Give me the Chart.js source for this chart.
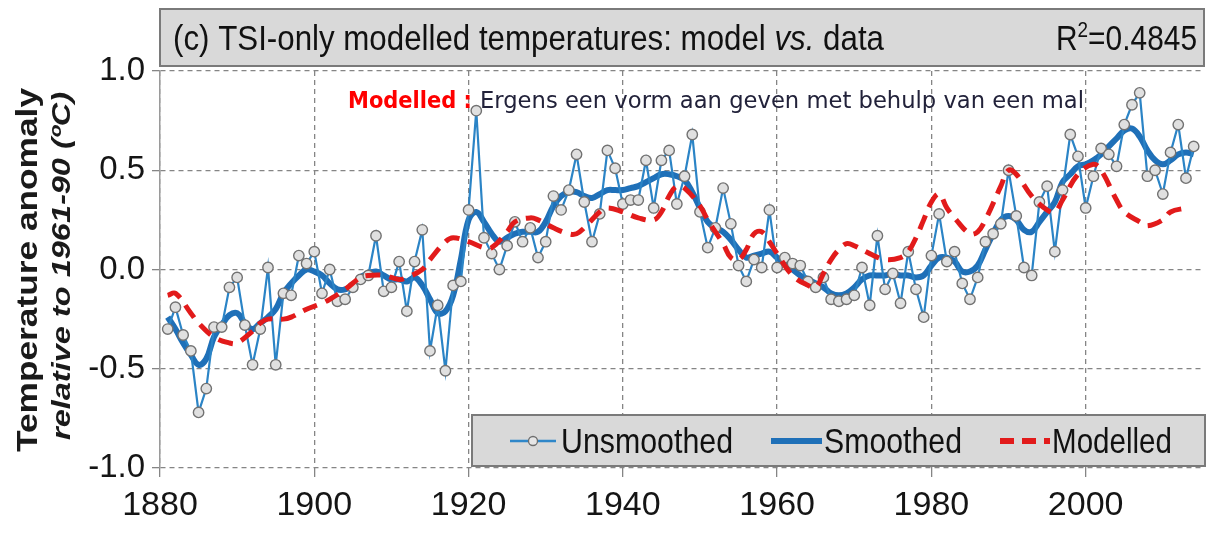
<!DOCTYPE html>
<html>
<head>
<meta charset="utf-8">
<title>TSI-only modelled temperatures</title>
<script src="https://cdn.jsdelivr.net/npm/chart.js@4.4.1/dist/chart.umd.min.js"></script>
<style>
    html, body { margin: 0; padding: 0; background: #fff; }
    #wrap { width: 1208px; height: 540px; }
</style>
</head>
<body>
<div id="wrap"><canvas id="tsiChart" width="1208" height="540"></canvas></div>
<script>
// Temperature anomaly vs TSI-only model

var FIRST_YEAR = 1881;

// annual anomalies, 1881-2014
var unsmoothed = [
    -0.30, -0.19, -0.33, -0.41, -0.72, -0.60, -0.29, -0.29, -0.09, -0.04,
    -0.28, -0.48, -0.30, 0.01, -0.48, -0.12, -0.13, 0.07, 0.03, 0.09,
    -0.12, 0.00, -0.16, -0.15, -0.09, -0.05, -0.03, 0.17, -0.11, -0.09,
    0.04, -0.21, 0.04, 0.20, -0.41, -0.18, -0.51, -0.08, -0.06, 0.30,
    0.80, 0.16, 0.08, 0.00, 0.12, 0.24, 0.14, 0.21, 0.06, 0.14,
    0.37, 0.30, 0.40, 0.58, 0.34, 0.14, 0.28, 0.60, 0.51, 0.33,
    0.35, 0.35, 0.55, 0.31, 0.55, 0.60, 0.33, 0.47, 0.68, 0.29,
    0.11, 0.21, 0.41, 0.23, 0.02, -0.06, 0.05, 0.01, 0.30, 0.01,
    0.06, 0.03, 0.02, -0.06, -0.09, -0.04, -0.15, -0.16, -0.15, -0.13,
    0.01, -0.18, 0.17, -0.10, -0.02, -0.17, 0.09, -0.10, -0.24, 0.07,
    0.28, 0.04, 0.09, -0.07, -0.15, -0.04, 0.14, 0.18, 0.23, 0.50,
    0.27, 0.01, -0.03, 0.34, 0.42, 0.09, 0.40, 0.68, 0.57, 0.31,
    0.47, 0.61, 0.58, 0.52, 0.73, 0.83, 0.89, 0.47, 0.50, 0.38,
    0.59, 0.73, 0.46, 0.62
];

var smoothed = [
    -0.24, -0.30, -0.37, -0.43, -0.48, -0.45, -0.34, -0.28, -0.23, -0.22,
    -0.27, -0.30, -0.27, -0.24, -0.20, -0.12, -0.07, -0.03, 0.00, -0.01,
    -0.03, -0.07, -0.10, -0.10, -0.08, -0.04, -0.02, -0.01, -0.03, -0.05,
    -0.05, -0.06, -0.04, -0.08, -0.15, -0.22, -0.21, -0.13, 0.05, 0.25,
    0.29, 0.24, 0.18, 0.14, 0.16, 0.18, 0.19, 0.19, 0.19, 0.24,
    0.32, 0.37, 0.39, 0.39, 0.37, 0.36, 0.38, 0.40, 0.40, 0.40,
    0.41, 0.42, 0.44, 0.46, 0.48, 0.48, 0.47, 0.45, 0.39, 0.31,
    0.24, 0.21, 0.19, 0.15, 0.10, 0.06, 0.07, 0.08, 0.09, 0.06,
    0.03, 0.00, -0.03, -0.05, -0.07, -0.09, -0.12, -0.13, -0.12, -0.09,
    -0.05, -0.03, -0.03, -0.03, -0.02, -0.03, -0.03, -0.04, -0.03, 0.02,
    0.06, 0.06, 0.04, -0.01, -0.01, 0.02, 0.10, 0.18, 0.25, 0.27,
    0.25, 0.20, 0.19, 0.24, 0.29, 0.34, 0.44, 0.48, 0.52, 0.53,
    0.55, 0.58, 0.62, 0.66, 0.70, 0.71, 0.67, 0.60, 0.55, 0.53,
    0.55, 0.58, 0.59, 0.58
];

var modelledYears = [
    1881, 1882, 1884, 1885, 1887, 1889, 1890, 1892, 1893, 1894,
    1896, 1897, 1899, 1901, 1902, 1904, 1906, 1907, 1909, 1911,
    1912, 1914, 1915, 1917, 1918, 1920, 1922, 1923, 1925, 1926,
    1928, 1929, 1931, 1933, 1934, 1935, 1937, 1938, 1940, 1942,
    1944, 1945, 1946, 1947, 1948, 1950, 1951, 1953, 1954, 1955,
    1956, 1957, 1958, 1959, 1960, 1962, 1964, 1965, 1966, 1967,
    1968, 1969, 1970, 1972, 1974, 1976, 1977, 1978, 1979, 1980,
    1981, 1982, 1983, 1985, 1986, 1987, 1989, 1990, 1991, 1993,
    1995, 1996, 1997, 1999, 2001, 2002, 2004, 2005, 2007, 2008,
    2010, 2011, 2013
];
var modelledValues = [
    -0.13, -0.12, -0.22, -0.27, -0.34, -0.37, -0.37, -0.31, -0.27, -0.25,
    -0.25, -0.24, -0.20, -0.17, -0.15, -0.10, -0.04, -0.03, -0.03, -0.05,
    -0.04, 0.00, 0.05, 0.14, 0.16, 0.14, 0.11, 0.11, 0.19, 0.24,
    0.26, 0.25, 0.21, 0.18, 0.18, 0.21, 0.29, 0.31, 0.29, 0.26,
    0.25, 0.29, 0.37, 0.42, 0.41, 0.32, 0.25, 0.13, 0.06, 0.05,
    0.10, 0.18, 0.19, 0.14, 0.08, -0.03, -0.08, -0.09, -0.02, 0.05,
    0.10, 0.13, 0.12, 0.08, 0.05, 0.06, 0.09, 0.16, 0.25, 0.34,
    0.38, 0.31, 0.26, 0.18, 0.19, 0.25, 0.42, 0.50, 0.48, 0.37,
    0.30, 0.29, 0.35, 0.48, 0.53, 0.50, 0.35, 0.29, 0.24, 0.22,
    0.25, 0.29, 0.31
];

var xTicks = [1880, 1900, 1920, 1940, 1960, 1980, 2000];
var yTicks = [-1.0, -0.5, 0.0, 0.5, 1.0];

var FONT = '"Liberation Sans", Arial, sans-serif';
var GRID = '#858585';

function yearPoints(values) {
    return values.map(function (v, i) { return { x: FIRST_YEAR + i, y: v }; });
}

function pairPoints(xs, ys) {
    return xs.map(function (x, i) { return { x: x, y: ys[i] }; });
}

// draw a run of text pieces fitted to a target width (sy stretches vertically)
function drawRun(ctx, parts, x, y, targetWidth, sy) {
    var total = 0;
    parts.forEach(function (p) {
        ctx.font = p.font;
        p.w = ctx.measureText(p.text).width;
        total += p.w;
    });
    var sx = targetWidth ? targetWidth / total : 1;
    ctx.save();
    ctx.translate(x, y);
    ctx.scale(sx, sy || 1);
    var cx = 0;
    parts.forEach(function (p) {
        ctx.font = p.font;
        ctx.fillStyle = p.color || '#111';
        ctx.textBaseline = 'alphabetic';
        ctx.textAlign = 'left';
        ctx.fillText(p.text, cx, p.dy || 0);
        cx += p.w;
    });
    ctx.restore();
}

var framePlugin = {
    id: 'frame',
    beforeDraw: function (chart) {
        var ctx = chart.ctx;
        ctx.save();
        ctx.fillStyle = '#fff';
        ctx.fillRect(0, 0, chart.width, chart.height);

        // title box
        ctx.fillStyle = '#d9d9d9';
        ctx.fillRect(160, 9, 1044, 57);
        ctx.strokeStyle = '#7a7a7a';
        ctx.lineWidth = 2;
        ctx.strokeRect(160, 9, 1044, 57);
        ctx.restore();

        drawRun(ctx, [
            { text: '(c) TSI-only modelled temperatures: model ', font: '30px ' + FONT },
            { text: 'vs.', font: 'italic 30px ' + FONT },
            { text: ' data', font: '30px ' + FONT }
        ], 173, 50, 711, 1.15);

        drawRun(ctx, [
            { text: 'R', font: '30px ' + FONT },
            { text: '2', font: '19px ' + FONT, dy: -11 },
            { text: '=0.4845', font: '30px ' + FONT }
        ], 1056, 50, 141, 1.15);
    },
    afterDatasetsDraw: function (chart) {
        var ctx = chart.ctx;

        // annotation line
        drawRun(ctx, [{ text: 'Modelled :', font: 'bold 21px "DejaVu Sans", Verdana, sans-serif', color: '#ff0000' }],
            348, 108, 124, 1.08);
        drawRun(ctx, [{ text: 'Ergens een vorm aan geven met behulp van een mal', font: '21px "DejaVu Sans", Verdana, sans-serif', color: '#22223a' }],
            480, 108, 604, 1.08);

        // legend box
        ctx.save();
        ctx.fillStyle = '#d9d9d9';
        ctx.fillRect(472, 415, 733, 51);
        ctx.strokeStyle = '#7a7a7a';
        ctx.lineWidth = 2;
        ctx.strokeRect(472, 415, 733, 51);

        var ly = 441;
        ctx.lineCap = 'butt';
        ctx.strokeStyle = '#2f87c9';
        ctx.lineWidth = 2.5;
        ctx.beginPath(); ctx.moveTo(510, ly); ctx.lineTo(556, ly); ctx.stroke();
        ctx.beginPath(); ctx.arc(533, ly, 4.5, 0, Math.PI * 2);
        ctx.fillStyle = '#e6e6e6'; ctx.fill();
        ctx.strokeStyle = '#6e6e6e'; ctx.lineWidth = 1.3; ctx.stroke();

        ctx.strokeStyle = '#1f70b8';
        ctx.lineWidth = 6;
        ctx.beginPath(); ctx.moveTo(771, ly); ctx.lineTo(822, ly); ctx.stroke();

        ctx.strokeStyle = '#e21b1b';
        ctx.lineWidth = 6;
        ctx.setLineDash([14, 8]);
        ctx.beginPath(); ctx.moveTo(1000, ly); ctx.lineTo(1050, ly); ctx.stroke();
        ctx.restore();

        drawRun(ctx, [{ text: 'Unsmoothed', font: '30px ' + FONT }], 561, 453, 172, 1.15);
        drawRun(ctx, [{ text: 'Smoothed', font: '30px ' + FONT }], 824, 453, 138, 1.15);
        drawRun(ctx, [{ text: 'Modelled', font: '30px ' + FONT }], 1052, 453, 120, 1.15);
    },
    afterDraw: function (chart) {
        var ctx = chart.ctx;
        ctx.save();
        ctx.rotate(-Math.PI / 2);
        // rotated frame: x' = -y, y' = x
        drawRun(ctx, [{ text: 'Temperature anomaly', font: 'bold 28px ' + FONT, color: '#1a1a1a' }],
            -452, 37, 364, 1.05);
        drawRun(ctx, [{ text: 'relative to 1961-90 (\u00baC)', font: 'bold italic 24px ' + FONT, color: '#1a1a1a' }],
            -440, 70, 348, 1.05);
        ctx.restore();
    }
};

new Chart(document.getElementById('tsiChart'), {
    type: 'line',
    data: {
        datasets: [{
            label: 'Unsmoothed',
            data: yearPoints(unsmoothed),
            borderColor: '#2b84c6',
            borderWidth: 2.2,
            pointRadius: 5.2,
            pointBackgroundColor: '#e0e0e0',
            pointBorderColor: '#727272',
            pointBorderWidth: 1.4,
            tension: 0,
            order: 2
        }, {
            label: 'Smoothed',
            data: yearPoints(smoothed),
            borderColor: '#1f70b8',
            borderWidth: 6,
            pointRadius: 0,
            tension: 0.4,
            order: 3
        }, {
            label: 'Modelled',
            data: pairPoints(modelledYears, modelledValues),
            borderColor: '#e21b1b',
            borderWidth: 5,
            borderDash: [15, 9],
            pointRadius: 0,
            tension: 0.4,
            order: 1
        }]
    },
    options: {
        responsive: false,
        animation: false,
        layout: { padding: { top: 71, left: 0, right: 0, bottom: 0 } },
        plugins: {
            legend: { display: false },
            tooltip: { enabled: false }
        },
        scales: {
            x: {
                type: 'linear',
                min: 1880,
                max: 2015,
                afterBuildTicks: function (axis) {
                    axis.ticks = xTicks.map(function (v) { return { value: v }; });
                },
                afterFit: function (scale) { scale.height = 72; },
                ticks: {
                    font: { family: FONT, size: 34 },
                    color: '#151515',
                    padding: 8,
                    maxRotation: 0,
                    callback: function (v) { return String(v); }
                },
                grid: {
                    color: GRID,
                    lineWidth: 1.3,
                    tickLength: 9,
                    tickColor: GRID,
                    tickBorderDash: []
                },
                border: { display: false, dash: [5, 4] }
            },
            y: {
                min: -1,
                max: 1,
                afterBuildTicks: function (axis) {
                    axis.ticks = yTicks.map(function (v) { return { value: v }; });
                },
                afterFit: function (scale) { scale.width = 160; },
                ticks: {
                    font: { family: FONT, size: 33 },
                    color: '#151515',
                    padding: 7,
                    callback: function (v) { return v.toFixed(1); }
                },
                grid: {
                    color: GRID,
                    lineWidth: 1.3,
                    tickLength: 8,
                    tickColor: GRID,
                    tickBorderDash: []
                },
                border: { display: true, color: '#9a9a9a', width: 1.5, dash: [5, 4] }
            }
        }
    },
    plugins: [framePlugin]
});
</script>
</body>
</html>
